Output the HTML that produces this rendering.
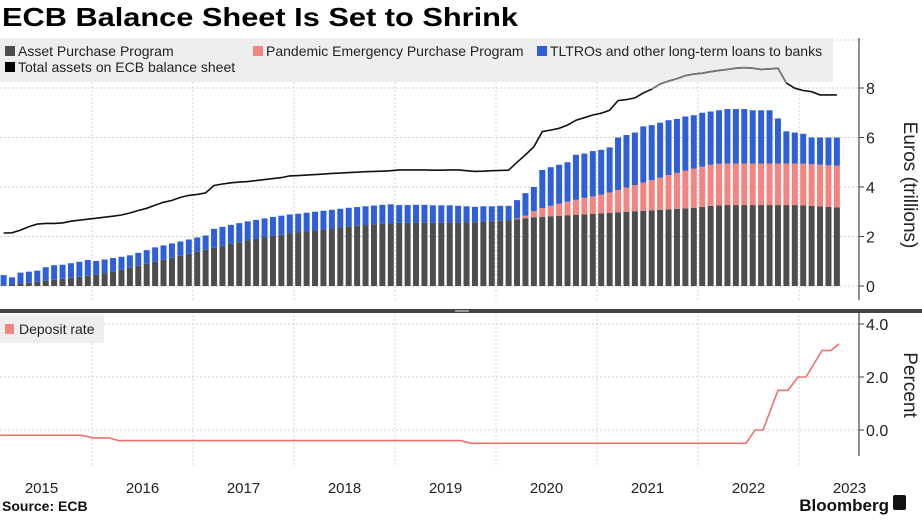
<!DOCTYPE html>
<html><head><meta charset="utf-8">
<style>
body{margin:0;background:#fff;width:922px;height:515px;overflow:hidden;font-family:"Liberation Sans",sans-serif;}
svg text{font-family:"Liberation Sans",sans-serif;}
</style></head>
<body>
<svg id="chart" width="922" height="515" viewBox="0 0 922 515" xmlns="http://www.w3.org/2000/svg">
<text x="2" y="26" font-size="26" font-weight="bold" fill="#000" textLength="516" lengthAdjust="spacingAndGlyphs">ECB Balance Sheet Is Set to Shrink</text>
<g id="grid"></g>
<rect x="0" y="38" width="833" height="44" fill="#eeeeee"/>
<g><rect x="5" y="46" width="10" height="10" fill="#4d4d4d"/><text x="18" y="56" font-size="14" fill="#222">Asset Purchase Program</text></g>
<g><rect x="253" y="46" width="10" height="10" fill="#f4847f"/><text x="266" y="56" font-size="14" fill="#222">Pandemic Emergency Purchase Program</text></g>
<g><rect x="537" y="46" width="10" height="10" fill="#2f5fd8"/><text x="550" y="56" font-size="14" fill="#222">TLTROs and other long-term loans to banks</text></g>
<g><rect x="5" y="62" width="10" height="10" fill="#000"/><text x="18" y="72" font-size="14" fill="#222">Total assets on ECB balance sheet</text></g>
<g id="bars"></g>
<g id="lines"></g>
<g id="axes"></g>
<text transform="translate(904,185) rotate(90)" text-anchor="middle" font-size="19" fill="#222">Euros (trillions)</text>
<rect x="0" y="309" width="922" height="4" fill="#444"/>
<rect x="455" y="310" width="14" height="2" fill="#999"/>
<rect x="0" y="315" width="104" height="28" fill="#eeeeee"/>
<g><rect x="5" y="324" width="9" height="10" fill="#f4847f"/><text x="19" y="334" font-size="14" fill="#222">Deposit rate</text></g>
<text transform="translate(904,385) rotate(90)" text-anchor="middle" font-size="19" fill="#222">Percent</text>
<text x="2" y="511" font-size="14" font-weight="bold" fill="#111">Source: ECB</text>
<text x="889" y="511" text-anchor="end" font-size="17" font-weight="bold" fill="#111">Bloomberg</text>
<rect x="893" y="495" width="13" height="15" rx="2" fill="#111"/>
</svg>
<script>
// month index 1..100 = Feb 2015 .. May 2023
const appVals=[0.03,0.06,0.1,0.13,0.17,0.21,0.25,0.29,0.33,0.37,0.41,
0.46,0.52,0.58,0.66,0.74,0.82,0.9,0.98,1.06,1.14,1.22,1.3,
1.38,1.46,1.54,1.62,1.7,1.77,1.84,1.9,1.96,2.02,2.07,2.12,
2.16,2.2,2.24,2.28,2.32,2.36,2.4,2.43,2.46,2.49,2.52,2.54,
2.55,2.55,2.56,2.56,2.56,2.56,2.56,2.56,2.57,2.58,2.6,2.62,
2.64,2.66,2.7,2.74,2.78,2.8,2.82,2.84,2.86,2.88,2.9,2.92,
2.94,2.96,2.98,3.0,3.02,3.04,3.06,3.08,3.1,3.12,3.14,3.16,
3.2,3.24,3.26,3.27,3.27,3.27,3.27,3.27,3.27,3.27,3.27,3.27,
3.26,3.24,3.22,3.2,3.18];
const peppVals=[0,0,0,0,0,0,0,0,0,0,0,
0,0,0,0,0,0,0,0,0,0,0,0,
0,0,0,0,0,0,0,0,0,0,0,0,
0,0,0,0,0,0,0,0,0,0,0,0,
0,0,0,0,0,0,0,0,0,0,0,0,
0,0,0.03,0.1,0.25,0.35,0.42,0.48,0.55,0.6,0.66,0.7,
0.75,0.82,0.9,0.98,1.06,1.14,1.22,1.3,1.38,1.45,1.52,1.58,
1.62,1.66,1.68,1.68,1.68,1.68,1.68,1.68,1.68,1.68,1.68,1.68,
1.68,1.68,1.68,1.68,1.68];
const tltroVals=[0.41,0.29,0.44,0.45,0.45,0.55,0.59,0.57,0.59,0.61,0.64,
0.55,0.55,0.55,0.52,0.5,0.52,0.55,0.58,0.58,0.58,0.58,0.58,
0.58,0.58,0.77,0.77,0.77,0.77,0.77,0.77,0.77,0.77,0.77,0.77,
0.76,0.76,0.76,0.76,0.76,0.76,0.76,0.76,0.76,0.76,0.76,0.76,
0.72,0.72,0.72,0.72,0.7,0.7,0.7,0.68,0.65,0.62,0.62,0.6,
0.6,0.58,0.74,0.91,0.97,1.54,1.56,1.58,1.59,1.82,1.79,1.83,
1.81,1.82,2.12,2.12,2.12,2.27,2.22,2.22,2.22,2.18,2.19,2.16,
2.18,2.15,2.16,2.2,2.2,2.2,2.15,2.15,2.15,1.82,1.3,1.25,
1.21,1.08,1.1,1.12,1.14];
const totalVals=[2.14,2.15,2.26,2.4,2.5,2.53,2.53,2.55,2.62,2.66,2.7,
2.74,2.78,2.82,2.87,2.95,3.05,3.14,3.27,3.38,3.46,3.58,3.66,
3.7,3.76,4.06,4.12,4.17,4.2,4.22,4.26,4.3,4.34,4.38,4.45,
4.46,4.48,4.5,4.52,4.55,4.56,4.58,4.6,4.62,4.63,4.64,4.66,
4.69,4.69,4.69,4.69,4.68,4.68,4.69,4.69,4.66,4.63,4.64,4.66,
4.67,4.68,5.0,5.3,5.63,6.24,6.3,6.37,6.5,6.7,6.8,6.91,
6.98,7.1,7.49,7.53,7.6,7.8,7.95,8.16,8.28,8.38,8.5,8.56,
8.6,8.66,8.71,8.75,8.8,8.82,8.8,8.75,8.77,8.8,8.2,7.99,
7.9,7.85,7.72,7.72,7.72];
const rateDates=[2015.09,2015.90,2016.01,2016.17,2016.26,2019.65,2019.75,2022.475,2022.564,2022.644,2022.792,2022.891,2022.99,2023.069,2023.228,2023.317,2023.396];
const rateVals=[-0.2,-0.2,-0.3,-0.3,-0.4,-0.4,-0.5,-0.5,0,0,1.5,1.5,2.0,2.0,3.0,3.0,3.25];
const yearLabels=["2015","2016","2017","2018","2019","2020","2021","2022","2023"];
const euroTicks=[0,2,4,6,8];
const rateTicks=[0,2,4];

const NS="http://www.w3.org/2000/svg";
function el(tag,attrs,parent){const e=document.createElementNS(NS,tag);for(const k in attrs)e.setAttribute(k,attrs[k]);parent.appendChild(e);return e;}
const xT=t=>92+(t-2016)*101;
const xM=m=>xT(2015+(m+0.5)/12);
const yE=v=>286-v*24.75;
const yR=v=>430-v*26.5;
const grid=document.getElementById('grid'),bars=document.getElementById('bars'),lines=document.getElementById('lines'),axes=document.getElementById('axes');

for(let i=1;i<yearLabels.length;i++){
  const x=xT(2015+i);
  const g1=el('line',{x1:x,x2:x,y1:38,y2:300,stroke:'#d6d6d6','stroke-dasharray':'2,2'},grid);
  
  
  const g2=el('line',{x1:x,x2:x,y1:315,y2:465,stroke:'#d6d6d6','stroke-dasharray':'2,2'},grid);
  
  
}
yearLabels.forEach((lab,i)=>{
  const t=el('text',{x:xT(2015.5+i),y:493,'text-anchor':'middle','font-size':15,fill:'#222'},axes);
  t.textContent=lab;
  
  
});
[...euroTicks,10].forEach(v=>{
  const y=v===10?40:yE(v);
  const g=el('line',{x1:0,x2:858,y1:y,y2:y,stroke:'#d0d0d0','stroke-dasharray':'2,2'},grid);
  
  
});
euroTicks.forEach(v=>{
  const tk=el('line',{x1:859,x2:864,y1:yE(v),y2:yE(v),stroke:'#444'},axes);
  
  
  const t=el('text',{x:866,y:yE(v)+6,'font-size':16,fill:'#222'},axes);
  t.textContent=v;
  
  
});
const ax1=el('line',{x1:859,x2:859,y1:38,y2:300,stroke:'#444','stroke-width':1.2},axes);


rateTicks.forEach(v=>{
  const g=el('line',{x1:0,x2:858,y1:yR(v),y2:yR(v),stroke:'#d0d0d0','stroke-dasharray':'2,2'},grid);
  
  
  const tk=el('line',{x1:859,x2:864,y1:yR(v),y2:yR(v),stroke:'#444'},axes);
  
  
  const t=el('text',{x:866,y:yR(v)+6,'font-size':16,fill:'#222'},axes);
  t.textContent=v.toFixed(1);
  
  
});
const ax2=el('line',{x1:859,x2:859,y1:313,y2:456,stroke:'#444','stroke-width':1.2},axes);



const bw=6;
appVals.forEach((a,i)=>{
  const m=i+1,x=xM(m)-bw/2;
  const p=peppVals[i],b=tltroVals[i];
  const r1=el('rect',{x:x,y:yE(a),width:bw,height:yE(0)-yE(a),fill:'#4d4d4d'},bars);
  
  
  if(p>0){
    const r2=el('rect',{x:x,y:yE(a+p),width:bw,height:yE(a)-yE(a+p),fill:'#f4847f'},bars);
    
    
  }
  const r3=el('rect',{x:x,y:yE(a+p+b),width:bw,height:yE(a+p)-yE(a+p+b),fill:'#2f5fd8'},bars);
  
  
});
let d='';
totalVals.forEach((v,i)=>{d+=(i?'L':'M')+xM(i+1).toFixed(1)+','+yE(v).toFixed(1);});
const tl=el('path',{d:d,fill:'none',stroke:'#111','stroke-width':1.6},lines);


let d2='';
for(let i=77;i<94;i++){d2+=(i>77?'L':'M')+xM(i+1).toFixed(1)+','+yE(totalVals[i]).toFixed(1);}
const tl2=el('path',{d:d2,fill:'none',stroke:'#777','stroke-width':1.6},lines);


let d3='';
rateVals.forEach((v,i)=>{d3+=(i?'L':'M')+xT(rateDates[i]).toFixed(1)+','+yR(v).toFixed(1);});
const rl=el('path',{d:d3,fill:'none',stroke:'#f0706a','stroke-width':1.6},lines);


</script>
</body></html>
